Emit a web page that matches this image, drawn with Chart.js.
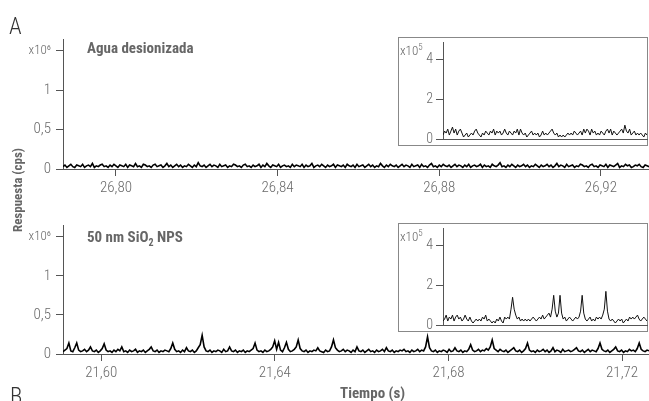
<!DOCTYPE html>
<html><head><meta charset="utf-8">
<script src="https://cdn.jsdelivr.net/npm/chart.js@4.4.0/dist/chart.umd.min.js"></script>
<style>
html,body{margin:0;padding:0;background:#fff;width:649px;height:401px;overflow:hidden;position:relative;}
canvas{position:absolute;left:0;top:0;}
.lbl{position:absolute;font-family:"Roboto Condensed","DejaVu Sans Condensed",sans-serif;color:#666;white-space:nowrap;line-height:1;}
.b{font-weight:bold;}
</style></head><body>
<canvas id="cA" width="649" height="401"></canvas>
<canvas id="cB" width="649" height="401"></canvas>
<canvas id="cIA" width="649" height="401"></canvas>
<canvas id="cIB" width="649" height="401"></canvas>
<div class="lbl" style="left:9px;top:15px;font-size:23px;font-weight:300;color:#333;">A</div>
<div class="lbl" style="left:10px;top:385px;font-size:23px;font-weight:300;color:#333;">B</div>
<div class="lbl b" style="left:87px;top:41px;font-size:15px;">Agua desionizada</div>
<div class="lbl b" style="left:87px;top:230px;font-size:15px;">50 nm SiO<sub style="font-size:10px;line-height:0;">2</sub> NPS</div>
<div class="lbl b" style="left:17px;top:190px;font-size:13px;transform:translate(-50%,-50%) rotate(-90deg);">Respuesta (cps)</div>
<div class="lbl b" style="left:340px;top:386px;font-size:15px;">Tiempo (s)</div>
<div class="lbl" style="left:400px;top:44px;font-size:13px;font-weight:300;">x10<sup style="font-size:9px;line-height:0;">5</sup></div>
<div class="lbl" style="left:400px;top:230px;font-size:13px;font-weight:300;">x10<sup style="font-size:9px;line-height:0;">5</sup></div>
<script>
// ---- data (counts in units of 1e4 cps) ----
const timeRangeA = [26.7869, 26.9319];
const timeRangeB = [21.5912, 21.7262];
const xTicksA = [26.80, 26.84, 26.88, 26.92];
const xLabelsA = ["26,80", "26,84", "26,88", "26,92"];
const xTicksB = [21.60, 21.64, 21.68, 21.72];
const xLabelsB = ["21,60", "21,64", "21,68", "21,72"];
const yTicksMain = [0, 50, 100, 150];
const yLabelsMain = ["0", "0,5", "1", "x10\u2076"];
const yTicksInset = [0, 20, 40];
const yLabelsInset = ["0", "2", "4"];

const signalA = [
3,5,2,4,6,3,2,5,4,3,6,2,4,5,3,7,2,4,3,5,6,3,4,2,5,3,6,4,2,5,
4,3,6,2,5,4,3,7,3,4,2,6,5,3,4,2,5,6,3,4,5,2,4,7,3,5,2,4,6,3,
5,2,4,3,6,4,2,5,3,8,4,3,5,2,4,6,3,5,4,2,6,3,4,5,2,4,3,6,5,3,
4,2,5,6,3,4,2,5,3,4,6,2,5,3,7,4,2,5,4,3,6,2,4,5,3,4,2,6,3,5,
4,3,6,2,5,3,4,7,2,4,5,3,6,4,2,5,3,4,6,2,5,4,3,5,2,6,4,3,5,2,
6,3,4,5,2,4,6,3,5,2,4,3,7,4,2,5,3,6,4,3,5,2,4,6,3,5,4,2,6,3,
4,5,2,6,3,4,2,5,7,3,4,2,5,3,6,4,3,5,2,4,6,3,5,4,2,5,3,6,2,4,
5,3,4,6,2,5,3,4,2,6,4,3,5,8,3,4,2,5,3,6,4,2,5,3,4,6,3,5,2,4,
3,6,4,2,5,3,4,6,3,5,2,4,7,3,5,4,2,6,3,4,5,2,4,3,6,5,3,4,2,5,
6,3,4,2,5,4,3,6,2,5,4,3,5,7,2,4,3,6,4,5,2,3,5,4,6,3,2,5,4,3
];
const signalB = [
3,5,7,14,4,3,8,14,5,3,4,6,3,5,9,4,3,5,2,4,7,13,5,3,4,2,5,3,6,4,
9,3,4,2,5,3,4,6,2,4,3,5,2,4,6,9,4,3,5,2,4,3,5,4,3,7,14,6,3,4,
2,5,3,8,4,3,5,2,4,8,12,24,9,4,3,5,2,4,3,5,4,2,6,3,4,9,4,3,5,2,
4,3,5,2,4,3,5,7,14,5,3,4,2,5,3,4,6,9,17,6,15,5,3,8,15,6,3,4,6,9,
18,7,4,3,5,2,4,3,5,4,8,4,3,2,5,3,4,9,18,8,5,3,4,6,3,5,4,2,5,3,
9,4,3,5,2,4,6,3,4,2,5,3,4,6,3,8,4,3,5,2,4,3,5,4,6,3,4,2,5,3,
4,6,3,5,4,9,22,8,4,3,5,2,4,3,5,4,2,6,3,4,8,4,3,5,2,4,3,6,12,5,
3,4,6,3,5,4,7,5,9,18,7,5,3,6,4,3,5,2,4,6,8,4,3,5,2,4,7,14,5,3,
4,2,5,3,4,6,3,5,2,4,8,3,5,4,2,6,3,4,5,3,4,6,8,4,3,5,2,4,6,3,
5,4,3,7,14,6,4,3,5,2,4,6,9,4,3,5,2,4,3,6,4,5,3,7,14,6,4,3,5,4
];
const insetA = [
2,4,3,5,2,4,6,3,5,2,
4,5,3,1,2,3,1,2,3,2,
4,5,3,2,1,3,2,4,3,2,
4,3,5,2,4,3,4,2,3,5,
3,2,4,3,2,4,3,5,2,5,
3,2,3,1,2,3,4,2,3,2,
3,1,2,4,2,3,2,3,4,5,
3,2,3,1,2,1,2,1,2,3,
2,3,2,4,3,2,3,4,2,5,
3,5,4,2,5,3,4,2,3,2,
4,3,2,4,5,3,5,2,4,3,
2,3,4,5,3,7,4,3,5,2,
3,4,2,3,2,3,2,1,3,2
];
const insetB = [
2,3,5,2,4,3,5,2,4,5,
3,4,2,3,5,3,2,4,2,1,
2,3,2,3,2,4,3,5,2,3,
2,1,2,1,3,2,4,2,1,4,
3,4,3,8,14,8,5,3,4,2,
3,2,3,2,3,2,3,4,3,2,
3,4,3,5,3,4,5,6,4,8,
15,7,4,6,15,6,3,4,2,3,
4,3,2,3,4,3,4,7,15,6,
3,2,3,4,2,3,2,4,3,4,
3,5,8,17,7,3,2,3,2,1,
2,3,2,3,1,2,3,2,4,3,
4,3,4,5,3,2,3,4,3,2
];

// ---- styling / layout ----
const FONT = '"Roboto Condensed","DejaVu Sans Condensed",sans-serif';
const TXT = '#6a6a6a';
const AX = '#555';

function toPoints(vals, range) {
  const n = vals.length, dt = (range[1] - range[0]) / (n - 1);
  return vals.map((v, i) => ({x: range[0] + i * dt, y: v}));
}

function mainConfig(vals, range, xt, xl, padTop, padBottom) {
  return {
    type: 'line',
    data: {datasets: [{data: toPoints(vals, range), borderColor: '#000', borderWidth: 1.6,
      pointRadius: 0, tension: 0, fill: false}]},
    options: {
      responsive: false, animation: false, events: [],
      layout: {padding: {left: 0, right: 0, top: padTop, bottom: padBottom}},
      plugins: {legend: {display: false}, tooltip: {enabled: false}},
      scales: {
        x: {type: 'linear', min: range[0], max: range[1],
          afterBuildTicks: s => { s.ticks = xt.map(v => ({value: v})); },
          afterFit: s => { s.height = 30; },
          ticks: {callback: (v, i) => xl[i], color: TXT, font: {family: FONT, size: 15, weight: 300}, padding: 3,
            maxRotation: 0, autoSkip: false},
          grid: {drawOnChartArea: false, drawTicks: true, tickLength: 7, color: AX, lineWidth: 1},
          border: {display: true, color: AX, width: 1}},
        y: {type: 'linear', min: 0, max: 165,
          afterBuildTicks: s => { s.ticks = yTicksMain.map(v => ({value: v})); },
          afterFit: s => { s.width = 63; },
          ticks: {callback: (v, i) => yLabelsMain[i], color: TXT, padding: 5,
            font: c => ({family: FONT, weight: 300, size: c.index === 3 ? 13 : 15})},
          grid: {drawOnChartArea: false, drawTicks: true, tickLength: 7, color: AX, lineWidth: 1},
          border: {display: true, color: AX, width: 1}}
      }
    }
  };
}

const boxPlugin = box => ({
  id: 'box',
  beforeDraw(chart) {
    const c = chart.ctx;
    c.save();
    c.fillStyle = '#fff';
    c.fillRect(box[0], box[1], box[2] - box[0], box[3] - box[1]);
    c.strokeStyle = '#888'; c.lineWidth = 1;
    c.strokeRect(box[0] + 0.5, box[1] + 0.5, box[2] - box[0], box[3] - box[1]);
    c.restore();
  }
});

function insetConfig(vals, padTop, padBottom, box) {
  return {
    type: 'line',
    data: {datasets: [{data: vals.map((v, i) => ({x: i, y: v})), borderColor: '#111', borderWidth: 1,
      pointRadius: 0, tension: 0, fill: false}]},
    plugins: [boxPlugin(box)],
    options: {
      responsive: false, animation: false, events: [],
      layout: {padding: {left: 398, right: 2, top: padTop, bottom: padBottom}},
      plugins: {legend: {display: false}, tooltip: {enabled: false}},
      scales: {
        x: {type: 'linear', min: 0, max: vals.length - 1,
          afterFit: s => { s.height = 0; },
          ticks: {display: false}, grid: {display: false},
          border: {display: true, color: AX, width: 1}},
        y: {type: 'linear', min: 0, max: 49,
          afterBuildTicks: s => { s.ticks = yTicksInset.map(v => ({value: v})); },
          afterFit: s => { s.width = 45; },
          ticks: {callback: (v, i) => yLabelsInset[i], color: TXT, padding: 3,
            font: {family: FONT, size: 14, weight: 300}},
          grid: {drawOnChartArea: false, drawTicks: true, tickLength: 7, color: AX, lineWidth: 1},
          border: {display: true, color: AX, width: 1}}
      }
    }
  };
}

new Chart(document.getElementById('cA'), mainConfig(signalA, timeRangeA, xTicksA, xLabelsA, 39, 401 - 169 - 30));
new Chart(document.getElementById('cB'), mainConfig(signalB, timeRangeB, xTicksB, xLabelsB, 225, 401 - 354 - 30));
new Chart(document.getElementById('cIA'), insetConfig(insetA, 42, 401 - 139, [398, 37, 647, 145]));
new Chart(document.getElementById('cIB'), insetConfig(insetB, 228, 401 - 325, [398, 223, 647, 331]));
</script>
</body></html>
